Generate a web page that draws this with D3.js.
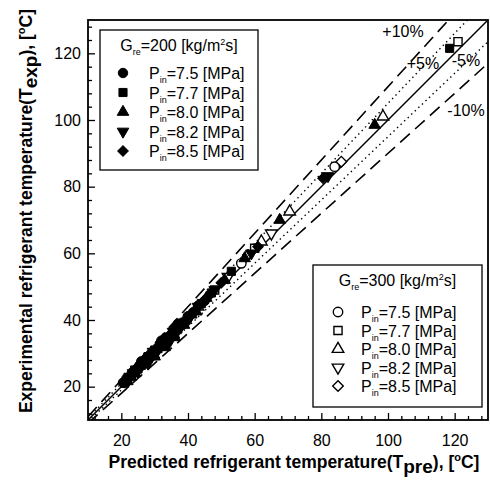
<!DOCTYPE html>
<html>
<head>
<meta charset="utf-8">
<script src="https://cdn.jsdelivr.net/npm/d3@7"></script>
<style>
  html, body { margin: 0; padding: 0; background: #fff; }
  svg { display: block; font-family: "Liberation Sans", Arial, sans-serif; }
</style>
</head>
<body>
<svg id="chart" width="490" height="488"></svg>
<script>
// Axis range and tick labels
const axisDomain = [10, 130];
const majorTicks = [20, 40, 60, 80, 100, 120];
const minorTicks = [12, 16, 24, 28, 32, 36, 44, 48, 52, 56, 64, 68, 72, 76, 84, 88, 92, 96, 104, 108, 112, 116, 124, 128];

// Pressure labels shared by both mass-flux groups
const pressures = ["7.5", "7.7", "8.0", "8.2", "8.5"];
const massFluxes = ["300", "200"];

// Deviation bands around the diagonal (fraction, label)
const bandFractions = [0.10, 0.05, -0.05, -0.10];
const bandLabels = ["+10%", "+5%", "-5%", "-10%"];

// [predicted, experimental] pairs, G = 200 kg/m2s
const g200_p75 = [[20.5,21.2],[21.5,22.4],[22.5,23.0],[23.5,24.5],[24.5,25.0],[25.5,26.5],[26,27.6],[26.5,27.0],[27.5,28.6],[28.5,29.0],[29.5,30.6],[30.5,31.2],[31.5,32.7],[32,33.8],[32.5,33.1],[33.5,34.6],[34.5,35.0],[35.5,36.7],[36.5,37.2],[37,38.9],[37.5,38.6],[38.5,39.0],[40,41.1],[41.5,42.3],[43,44.3],[45,45.7]];
const g200_p77 = [[21,21.0],[22,22.8],[23,23.4],[24,25.0],[25,25.3],[26,26.9],[27,27.4],[28,29.0],[29,29.3],[30,31.0],[31,31.4],[32,33.0],[33,33.5],[34,34.9],[35,35.3],[36,37.1],[37,37.4],[38,38.8],[39,39.4],[44,44.9],[47,48.1],[53,54.6],[118.5,121.5]];
const g200_p80 = [[21.8,21.6],[22.8,22.9],[24.2,24.0],[25.5,26.2],[26.8,26.6],[28.5,29.1],[29.8,29.6],[30,29.0],[31.5,32.4],[32.8,32.4],[33,31.8],[34.5,35.1],[35.8,35.6],[36,34.8],[37.5,38.4],[38.8,38.5],[41,41.6],[42.5,42.5],[45.5,46.6],[51,52.0],[57,58.5],[67.5,70.0],[96,98.5]];
const g200_p82 = [[22.2,22.0],[23.5,24.1],[24.8,24.6],[26.5,27.3],[27.8,27.6],[28,27.0],[29.5,30.5],[30.8,30.7],[32.5,33.1],[33.8,33.7],[34.5,33.5],[35.5,36.5],[36.8,36.6],[38.5,39.1],[40.5,40.6],[43,44.0],[48,49.0],[59,60.0],[82,83.2]];
const g200_p85 = [[24.5,25.2],[25.8,25.8],[27.5,28.3],[28.8,29.0],[30.5,31.1],[31.8,32.0],[33.5,34.4],[34.8,35.0],[36.5,37.1],[37.8,38.0],[40,40.8],[42,42.8],[46,47.0],[50,51.2],[61,62.0],[80.5,82.5]];

// [predicted, experimental] pairs, G = 300 kg/m2s
const g300_p75 = [[25,25.6],[30,30.6],[35,35.5],[40,41.0],[56,57.0],[84,86.0]];
const g300_p77 = [[28,28.6],[38,38.8],[48,49.0],[60,61.5],[121,123.5]];
const g300_p80 = [[33,34.0],[43,44.0],[62,63.5],[70.5,72.5],[98.5,101.0]];
const g300_p82 = [[27,27.5],[37,37.6],[52,53.0],[65,66.0]];
const g300_p85 = [[32,32.6],[45,46.0],[58,59.5],[86,87.5]];

const seriesData = {
  "200": [g200_p75, g200_p77, g200_p80, g200_p82, g200_p85],
  "300": [g300_p75, g300_p77, g300_p80, g300_p82, g300_p85]
};

const svg = d3.select("#chart");
const plot = { left: 88, right: 488, top: 20, bottom: 420 };

const x = d3.scaleLinear().domain(axisDomain).range([plot.left, plot.right]);
const y = d3.scaleLinear().domain(axisDomain).range([plot.bottom, plot.top]);

svg.append("defs").append("clipPath").attr("id", "plotClip")
  .append("rect")
  .attr("x", plot.left).attr("y", plot.top)
  .attr("width", plot.right - plot.left).attr("height", plot.bottom - plot.top);

// Marker shapes by pressure index
const markerTypes = [
  { type: d3.symbolCircle, size: 70, rotate: 0 },
  { type: d3.symbolSquare, size: 66, rotate: 0 },
  { type: d3.symbolTriangle, size: 58, rotate: 0 },
  { type: d3.symbolTriangle, size: 58, rotate: 180 },
  { type: d3.symbolSquare, size: 56, rotate: 45 }
];
function markerPath(i) {
  return d3.symbol().type(markerTypes[i].type).size(markerTypes[i].size)();
}
function drawMarker(sel, i, filled, cx, cy) {
  sel.append("path")
    .attr("d", markerPath(i))
    .attr("transform", `translate(${cx},${cy}) rotate(${markerTypes[i].rotate})`)
    .attr("fill", filled ? "#000" : "#fff")
    .attr("stroke", "#000")
    .attr("stroke-width", filled ? 1 : 1.4);
}

// Diagonal and deviation lines
const lines = svg.append("g").attr("clip-path", "url(#plotClip)");
lines.append("line")
  .attr("x1", x(axisDomain[0])).attr("y1", y(axisDomain[0]))
  .attr("x2", x(axisDomain[1])).attr("y2", y(axisDomain[1]))
  .attr("stroke", "#000").attr("stroke-width", 1.5);
bandFractions.forEach(f => {
  lines.append("line")
    .attr("x1", x(axisDomain[0])).attr("y1", y(axisDomain[0] * (1 + f)))
    .attr("x2", x(axisDomain[1])).attr("y2", y(axisDomain[1] * (1 + f)))
    .attr("stroke", "#000")
    .attr("stroke-width", Math.abs(f) > 0.07 ? 1.6 : 1.4)
    .attr("stroke-dasharray", Math.abs(f) > 0.07 ? "13,7" : "1.4,3.5");
});

// Data points (open markers first, filled drawn over them)
const pts = svg.append("g").attr("clip-path", "url(#plotClip)");
massFluxes.forEach(g => {
  seriesData[g].forEach((arr, i) => {
    arr.forEach(d => drawMarker(pts, i, g === "200", x(d[0]), y(d[1])));
  });
});

// Axes with inward ticks
const xAxis = svg.append("g").attr("transform", `translate(0,${plot.bottom})`);
xAxis.call(d3.axisBottom(x).tickValues(majorTicks).tickSize(-7).tickPadding(15).tickFormat(d3.format("d")));
const xMinor = svg.append("g").attr("transform", `translate(0,${plot.bottom})`);
xMinor.call(d3.axisBottom(x).tickValues(minorTicks).tickSize(-4).tickFormat(""));
const yAxis = svg.append("g").attr("transform", `translate(${plot.left},0)`);
yAxis.call(d3.axisLeft(y).tickValues(majorTicks).tickSize(-7).tickPadding(7).tickFormat(d3.format("d")));
const yMinor = svg.append("g").attr("transform", `translate(${plot.left},0)`);
yMinor.call(d3.axisLeft(y).tickValues(minorTicks).tickSize(-4).tickFormat(""));
[xAxis, xMinor, yAxis, yMinor].forEach(a => {
  a.select(".domain").remove();
  a.selectAll(".tick line").attr("stroke", "#000").attr("stroke-width", 1.3);
  a.selectAll(".tick text").attr("font-size", 16).attr("fill", "#000")
    .attr("font-family", "Liberation Sans, Arial, sans-serif");
});

// Frame
svg.append("rect")
  .attr("x", plot.left).attr("y", plot.top)
  .attr("width", plot.right - plot.left).attr("height", plot.bottom - plot.top)
  .attr("fill", "none").attr("stroke", "#000").attr("stroke-width", 1.8);

// Band labels
const bandPos = [[403, 37], [423, 69], [466, 66], [466, 116]];
bandLabels.forEach((t, i) => {
  svg.append("text").attr("x", bandPos[i][0]).attr("y", bandPos[i][1])
    .attr("text-anchor", "middle").attr("font-size", 16).text(t);
});

// Legends
function legend(g, box, filled) {
  const lg = svg.append("g");
  lg.append("rect").attr("x", box.x).attr("y", box.y).attr("width", box.w).attr("height", box.h)
    .attr("fill", "#fff").attr("stroke", "#000").attr("stroke-width", 1.3);
  const title = lg.append("text").attr("x", box.x + box.w / 2).attr("y", box.y + 21)
    .attr("text-anchor", "middle").attr("font-size", 16);
  title.append("tspan").text("G");
  title.append("tspan").attr("font-size", 9).attr("dy", 4).text("re");
  title.append("tspan").attr("dy", -4).text(`=${g} [kg/m`);
  title.append("tspan").attr("font-size", 9).attr("dy", -6).text("2");
  title.append("tspan").attr("dy", 6).text("s]");
  pressures.forEach((p, i) => {
    const cy = box.y + box.row0 + i * box.step;
    drawMarker(lg, i, filled, box.sx, cy);
    const t = lg.append("text").attr("x", box.tx).attr("y", cy + 6).attr("font-size", 16);
    t.append("tspan").text("P");
    t.append("tspan").attr("font-size", 9).attr("dy", 4).text("in");
    t.append("tspan").attr("dy", -4).text(`=${p} [MPa]`);
  });
}
legend("200", { x: 100, y: 30, w: 158, h: 140, row0: 43, step: 19.5, sx: 123, tx: 149 }, true);
legend("300", { x: 313, y: 265, w: 169, h: 142, row0: 47, step: 18.5, sx: 338, tx: 361 }, false);

// Axis titles
const xt = svg.append("text").attr("x", 294).attr("y", 468).attr("text-anchor", "middle")
  .attr("font-size", 17.5).attr("font-weight", "bold");
xt.append("tspan").text("Predicted refrigerant temperature(T");
xt.append("tspan").attr("font-size", 19).attr("dy", 5).text("pre");
xt.append("tspan").attr("dy", -5).text("), [");
xt.append("tspan").attr("font-size", 11).attr("dy", -7).text("o");
xt.append("tspan").attr("dy", 7).text("C]");

const yt = svg.append("text").attr("transform", "translate(32,211) rotate(-90)")
  .attr("text-anchor", "middle").attr("font-size", 17.5).attr("font-weight", "bold");
yt.append("tspan").text("Experimental refrigerant temperature(T");
yt.append("tspan").attr("font-size", 19).attr("dy", 5).text("exp");
yt.append("tspan").attr("dy", -5).text("), [");
yt.append("tspan").attr("font-size", 11).attr("dy", -7).text("o");
yt.append("tspan").attr("dy", 7).text("C]");
</script>
</body>
</html>
